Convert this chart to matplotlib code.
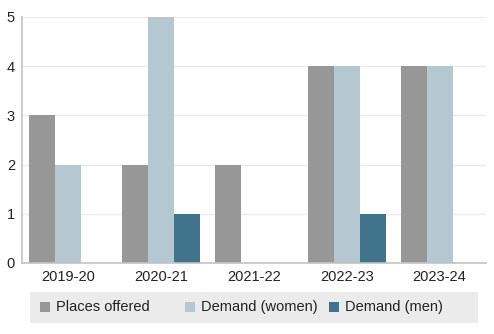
import numpy as np
import matplotlib
matplotlib.use("Agg")
import matplotlib.pyplot as plt
from matplotlib.patches import Rectangle

# data
years = ["2019-20", "2020-21", "2021-22", "2022-23", "2023-24"]
places_offered = [3, 2, 2, 4, 4]
demand_women = [2, 5, 0, 4, 4]
demand_men = [0, 1, 0, 1, 0]

series_names = ["Places offered", "Demand (women)", "Demand (men)"]
series_colors = ["#979797", "#b5c7d1", "#41738c"]

plt.rcParams["font.family"] = ["Liberation Sans", "DejaVu Sans"]
plt.rcParams["font.size"] = 10.5

fig = plt.figure(figsize=(4.94, 3.34), dpi=100)
ax = fig.add_axes([22 / 494, 1 - 263 / 334, 464 / 494, 246 / 334])

x = np.arange(len(years))
width = 0.28
all_values = [places_offered, demand_women, demand_men]
for i, (vals, col) in enumerate(zip(all_values, series_colors)):
    ax.bar(x + (i - 1) * width, vals, width, color=col, zorder=2, linewidth=0)

ax.set_xlim(-0.5, len(years) - 0.5)
ax.set_ylim(0, 5)
ax.set_yticks(range(0, 6))
ax.set_xticks(x)
ax.set_xticklabels(years)
ax.tick_params(length=0, pad=5, labelcolor="#222222")
ax.grid(axis="y", color="#ebebeb", linewidth=1, zorder=0)
for s in ("top", "right"):
    ax.spines[s].set_visible(False)
for s in ("left", "bottom"):
    ax.spines[s].set_color("#c4c4c4")
    ax.spines[s].set_linewidth(1.2)
    ax.spines[s].set_zorder(3)

# legend box at the bottom, equal-width columns
W, H = 494, 334
fig.patches.append(Rectangle((30 / W, 1 - 323 / H), 448 / W, 31 / H,
                             transform=fig.transFigure, facecolor="#ebebeb",
                             edgecolor="none", zorder=0))
for k, (name, col) in enumerate(zip(series_names, series_colors)):
    x0 = 40 + k * 144.5
    fig.patches.append(Rectangle((x0 / W, 1 - 312 / H), 10 / W, 10 / H,
                                 transform=fig.transFigure, facecolor=col,
                                 edgecolor="none"))
    fig.text((x0 + 16) / W, 1 - 307 / H, name, va="center", ha="left",
             color="#222222")

fig.savefig("out.png", dpi=100)
